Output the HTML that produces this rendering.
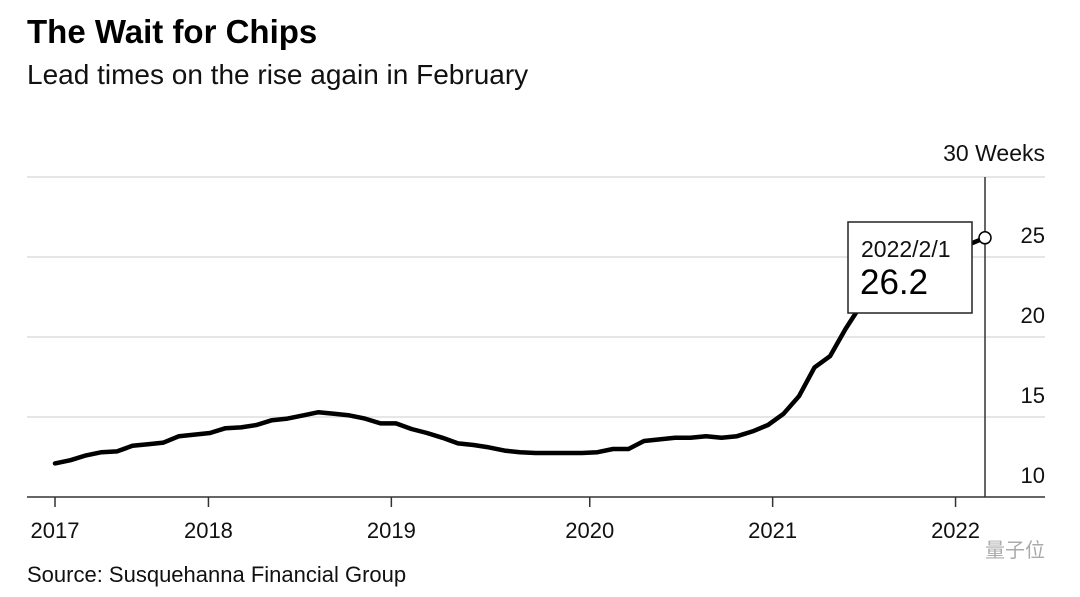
<!DOCTYPE html>
<html><head><meta charset="utf-8"><style>
body{margin:0;background:#fff;width:1080px;height:597px;overflow:hidden;font-family:"Liberation Sans",Arial,sans-serif}
svg{position:absolute;left:0;top:0}
</style></head><body>
<svg width="1080" height="597">
<text x="27" y="43" font-size="33" font-weight="bold" fill="#000">The Wait for Chips</text>
<text x="27" y="84" font-size="28" fill="#111">Lead times on the rise again in February</text>
<text x="27" y="582" font-size="22" fill="#111">Source: Susquehanna Financial Group</text>
<text x="1045" y="557" font-size="20" fill="#aaa" text-anchor="end" font-family="'Noto Sans CJK SC',sans-serif">量子位</text>
<g id="grid"></g><g id="xaxis"></g><g id="series"></g><g id="callout"></g>
</svg>
<script>
const months = 61;
const leadTimes = [12.1,12.3,12.6,12.8,12.85,13.2,13.3,13.4,13.8,13.9,14.0,14.3,14.35,14.5,14.8,14.9,15.1,15.3,15.2,15.1,14.9,14.6,14.6,14.25,14.0,13.7,13.35,13.25,13.1,12.9,12.8,12.75,12.75,12.75,12.75,12.8,13.0,13.0,13.5,13.6,13.7,13.7,13.8,13.7,13.8,14.1,14.5,15.2,16.3,18.1,18.8,20.5,22.0,23.2,24.0,24.6,25.0,25.3,25.6,25.8,26.2];
const yTicks = [10,15,20,25,30];
const yTickLabels = ["10","15","20","25","30 Weeks"];
const xTicks = [0,9.9,21.7,34.5,46.3,58.1];
const xTickLabels = ["2017","2018","2019","2020","2021","2022"];
const calloutDate = "2022/2/1";
const calloutValue = "26.2";

const NS="http://www.w3.org/2000/svg";
const x0=55,x1=985,yb=497,plotL=27,plotR=1045;
const xS=i=>x0+(i)*(x1-x0)/(months-1);
const yS=v=>yb-(v-10)*16;
function mk(t,a,p){const e=document.createElementNS(NS,t);for(const k in a)e.setAttribute(k,a[k]);p.appendChild(e);return e;}
const grid=document.getElementById('grid');
yTicks.forEach((v,i)=>{
  if(v>10){const l=mk('line',{x1:plotL,x2:plotR,y1:yS(v),y2:yS(v),stroke:'#ddd','stroke-width':1.5},grid);
  
  }
  const t=mk('text',{x:plotR,y:yS(v)-(v==30?16:14),'font-size':v==30?23:22,'text-anchor':'end',fill:'#111'},grid);
  t.textContent=yTickLabels[i];
  
  
});
const xa=document.getElementById('xaxis');
const ax=mk('line',{x1:plotL,x2:plotR,y1:yb,y2:yb,stroke:'#333','stroke-width':1.5},xa);


xTicks.forEach((m,i)=>{
  const x=xS(m);
  const tk=mk('line',{x1:x,x2:x,y1:yb,y2:yb+10,stroke:'#333','stroke-width':1.5},xa);
  
  
  const t=mk('text',{x:x,y:yb+41,'font-size':22,'text-anchor':'middle',fill:'#111'},xa);
  t.textContent=xTickLabels[i];
  
  
});
const vl=mk('line',{x1:x1,x2:x1,y1:yS(30),y2:yb,stroke:'#333','stroke-width':1.5},xa);


const s=document.getElementById('series');
const path=mk('path',{d:leadTimes.map((v,i)=>(i?'L':'M')+xS(i).toFixed(1)+' '+yS(v).toFixed(1)).join(''),fill:'none',stroke:'#000','stroke-width':4.5,'stroke-linejoin':'round','stroke-linecap':'round'},s);


const c=document.getElementById('callout');
const last=leadTimes.length-1;
const bx=mk('rect',{x:848,y:222,width:124,height:91,fill:'#fff',stroke:'#222','stroke-width':1.5},c);


const t1=mk('text',{x:861,y:257,'font-size':23,fill:'#111'},c);t1.textContent=calloutDate;


const t2=mk('text',{x:860,y:294,'font-size':35,fill:'#000'},c);t2.textContent=calloutValue;


const dot=mk('circle',{cx:xS(last),cy:yS(leadTimes[last]),r:6,fill:'#fff',stroke:'#000','stroke-width':1.5},c);


</script>
</body></html>
